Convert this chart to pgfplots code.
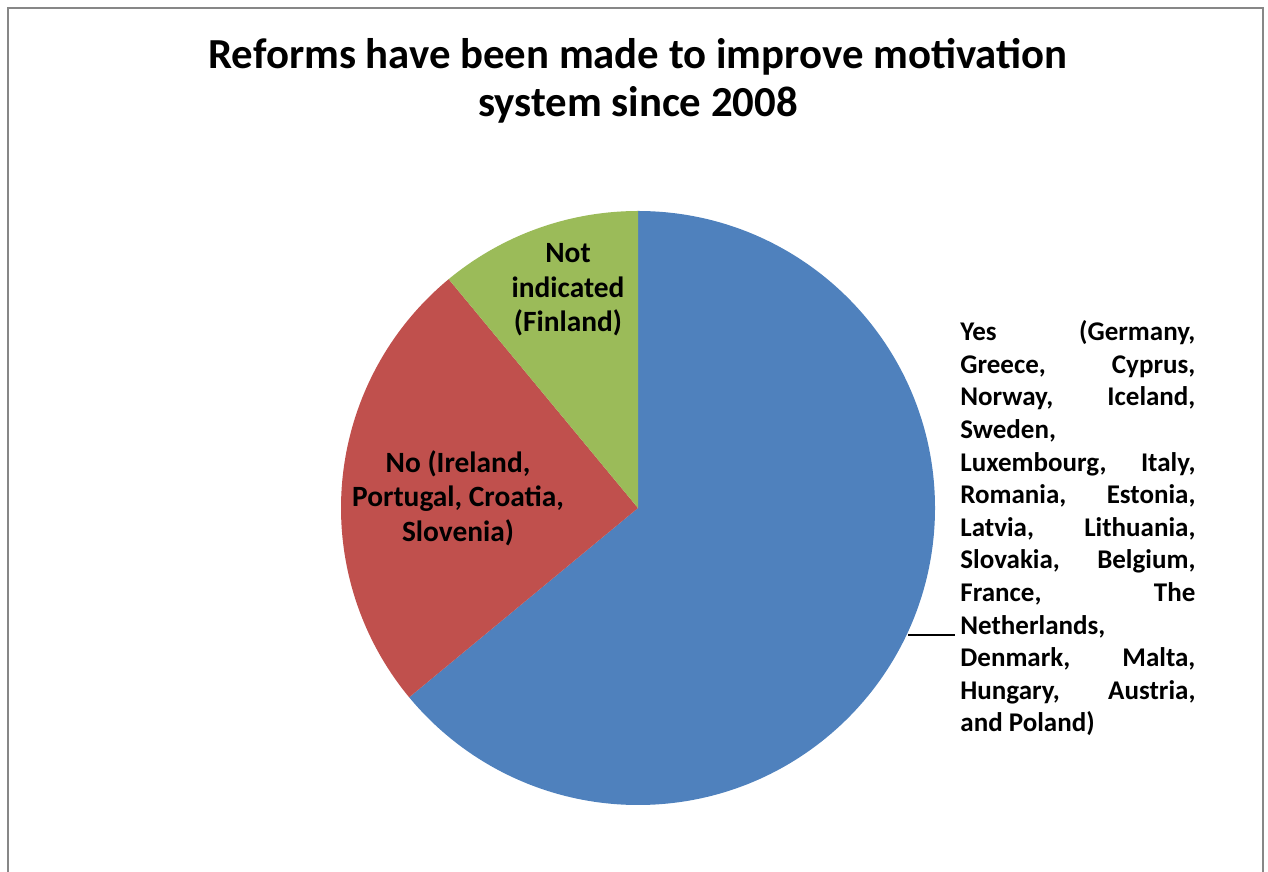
\documentclass[border=0pt]{standalone}
\usepackage{pgfplots}
\pgfplotsset{compat=1.18}
\usepackage{fontspec}
\setmainfont{Carlito}
\definecolor{cYes}{HTML}{4F81BD}
\definecolor{cNo}{HTML}{C0504D}
\definecolor{cNI}{HTML}{9BBB59}
\definecolor{frame}{HTML}{878787}
\begin{document}
\begin{tikzpicture}
\useasboundingbox (0,0) rectangle (634pt,436pt);
% data (percent of countries)
\def\vYes{64.0}
\def\vNo{25.0}
\def\vNI{11.0}
\pgfmathsetmacro{\aA}{90}
\pgfmathsetmacro{\aB}{90-3.6*\vYes}
\pgfmathsetmacro{\aC}{\aB-3.6*\vNo}
\pgfmathsetmacro{\aD}{\aC-3.6*\vNI}
\def\R{148.5pt}
\begin{axis}[
  at={(0,0)}, anchor=south west,
  scale only axis, width=634pt, height=436pt,
  xmin=0, xmax=1268, ymin=0, ymax=872,
  hide axis, clip=false,
]
\draw[frame, line width=1pt] (axis cs:8,-20) -- (axis cs:8,864) -- (axis cs:1263,864) -- (axis cs:1263,-20);
\fill[cYes] (axis cs:638,364) -- ++(\aA:\R) arc[start angle=\aA, end angle=\aB, radius=\R] -- cycle;
\fill[cNo] (axis cs:638,364) -- ++(\aB:\R) arc[start angle=\aB, end angle=\aC, radius=\R] -- cycle;
\fill[cNI] (axis cs:638,364) -- ++(\aC:\R) arc[start angle=\aC, end angle=\aD, radius=\R] -- cycle;
% title
\node[anchor=base, font=\fontsize{21.4pt}{26pt}\selectfont\bfseries] at (axis cs:638,{872-68.3}) {Reforms have been made to improve motivation};
\node[anchor=base, font=\fontsize{21.4pt}{26pt}\selectfont\bfseries] at (axis cs:638,{872-117}) {system since 2008};
% pie labels
\begin{scope}[every node/.style={anchor=base, font=\fontsize{14.7pt}{17pt}\selectfont\bfseries}]
\node at (axis cs:568,{872-262.7}) {Not};
\node at (axis cs:568,{872-297.5}) {indicated};
\node at (axis cs:568,{872-332}) {(Finland)};
\node at (axis cs:458,{872-472.3}) {No (Ireland,};
\node at (axis cs:458,{872-507}) {Portugal, Croatia,};
\node at (axis cs:458,{872-541.7}) {Slovenia)};
\end{scope}
\draw[black, line width=0.6pt] (axis cs:908,{872-635}) -- (axis cs:955,{872-635});
\begin{scope}[every node/.style={anchor=base west, inner sep=0pt, font=\fontsize{13.5pt}{16pt}\selectfont\bfseries}]
\node at (axis cs:960,{872-340.7}) {\makebox[117.5pt][s]{Yes\hfill(Germany,}};
\node at (axis cs:960,{872-373.3}) {\makebox[117.5pt][s]{Greece,\hfill Cyprus,}};
\node at (axis cs:960,{872-405.9}) {\makebox[117.5pt][s]{Norway,\hfill Iceland,}};
\node at (axis cs:960,{872-438.5}) {Sweden,};
\node at (axis cs:960,{872-471.1}) {\makebox[117.5pt][s]{Luxembourg,\hfill Italy,}};
\node at (axis cs:960,{872-503.7}) {\makebox[117.5pt][s]{Romania,\hfill Estonia,}};
\node at (axis cs:960,{872-536.3}) {\makebox[117.5pt][s]{Latvia,\hfill Lithuania,}};
\node at (axis cs:960,{872-568.9}) {\makebox[117.5pt][s]{Slovakia,\hfill Belgium,}};
\node at (axis cs:960,{872-601.5}) {\makebox[117.5pt][s]{France,\hfill The}};
\node at (axis cs:960,{872-634.1}) {Netherlands,};
\node at (axis cs:960,{872-666.7}) {\makebox[117.5pt][s]{Denmark,\hfill Malta,}};
\node at (axis cs:960,{872-699.3}) {\makebox[117.5pt][s]{Hungary,\hfill Austria,}};
\node at (axis cs:960,{872-731.9}) {and Poland)};
\end{scope}
\end{axis}
\end{tikzpicture}
\end{document}
